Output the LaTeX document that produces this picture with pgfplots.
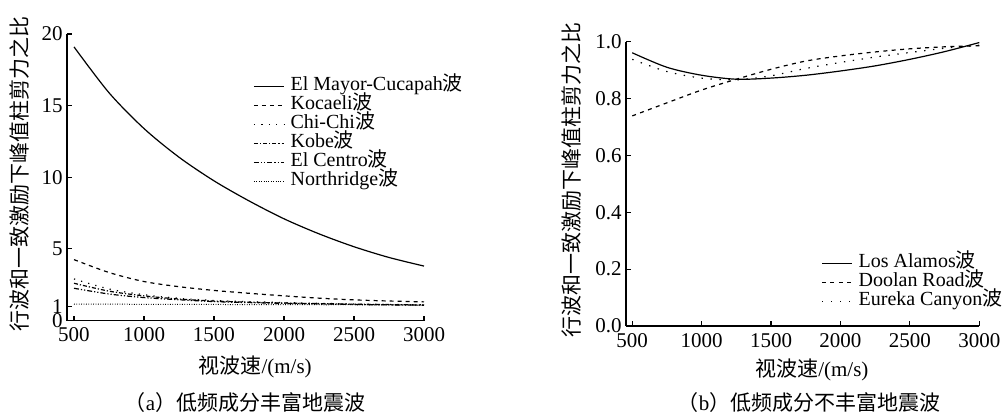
\documentclass[border=0pt]{standalone}
\usepackage{fontspec}
\setmainfont{Liberation Serif}
\setsansfont{Liberation Serif}
\newfontfamily\cjk{Noto Sans CJK SC}
\usepackage{pgfplots}
\usepackage{pgfplotstable}
\pgfplotsset{compat=1.18}

\pgfplotstableread{
x emc koc chichi kobe elc nor
500 19.1 4.25 2.90 2.60 2.25 1.15
750 15.9 3.35 2.20 2.05 1.85 1.14
1000 13.4 2.72 1.80 1.72 1.60 1.13
1250 11.4 2.36 1.55 1.50 1.45 1.12
1500 9.75 2.10 1.40 1.36 1.32 1.12
1750 8.35 1.90 1.32 1.28 1.25 1.11
2000 7.10 1.72 1.25 1.22 1.20 1.11
2250 6.05 1.56 1.20 1.18 1.16 1.10
2500 5.15 1.44 1.15 1.14 1.12 1.10
2750 4.40 1.36 1.12 1.11 1.09 1.09
3000 3.80 1.30 1.10 1.08 1.07 1.08
}\lefttab

\pgfplotstableread{
x la dr ec
500 0.961 0.739 0.938
750 0.910 0.785 0.895
1000 0.882 0.830 0.872
1250 0.868 0.868 0.866
1500 0.872 0.903 0.880
1750 0.882 0.932 0.906
2000 0.897 0.950 0.927
2250 0.915 0.964 0.946
2500 0.938 0.975 0.962
2750 0.965 0.982 0.977
3000 0.997 0.986 0.988
}\righttab

\pgfplotsset{
 myaxis/.style={
  scale only axis,
  axis lines=left,
  axis line style={-, line width=0.6pt},
  tick align=inside,
  major tick length=2.5pt,
  tick style={line width=0.6pt, black},
  /pgf/number format/assume math mode=true,
  xtick={500,1000,1500,2000,2500,3000},
  x tick label style={/pgf/number format/1000 sep={}},
  yticklabel style={inner xsep=2pt},
  ymin=0,
  xmax=3000,
  clip=false,
  cycle list={{black,solid}},
  legend cell align=left,
  legend image code/.code={\draw[##1] (0pt,0pt) -- (15pt,0pt);},
  legend style={draw=none, fill=none, anchor=north west, row sep=0pt, column sep=3pt, inner sep=0pt,
    nodes={inner sep=0pt, text height=7pt, text depth=2.5pt, font=\fontsize{10}{11}\selectfont}},
  every axis plot/.append style={line width=0.6pt, black, smooth, no marks},
 }
}

\begin{document}
\begin{tikzpicture}[font=\rmfamily\fontsize{10.5}{12}\selectfont]
\path (0,0) rectangle (504pt,207pt);

\begin{axis}[myaxis,
  at={(33.5pt,46.75pt)}, anchor=south west,
  width=178.5pt, height=143.25pt,
  xmin=450, ymax=20,
  ytick={0,1,5,10,15,20},
  xlabel={{\cjk 视波速}/(m/s)},
  xlabel style={at={(axis description cs:0.527,-0.162)}, anchor=center},
  ylabel={{\cjk 行波和一致激励下峰值柱剪力之比}},
  ylabel style={at={(axis description cs:-0.1317,0.51)}, anchor=center},
  legend style={at={(0.521,0.852)}},
]
\addplot[black, solid] table[x=x,y=emc]{\lefttab};
\addlegendentry{El Mayor-Cucapah{\cjk 波}}
\addplot[dash pattern=on 2pt off 2pt] table[x=x,y=koc]{\lefttab};
\addlegendentry{Kocaeli{\cjk 波}}
\addplot[dash pattern=on 0.6pt off 3.1pt] table[x=x,y=chichi]{\lefttab};
\addlegendentry{Chi-Chi{\cjk 波}}
\addplot[dash pattern=on 2pt off 1pt on 0.6pt off 1pt] table[x=x,y=kobe]{\lefttab};
\addlegendentry{Kobe{\cjk 波}}
\addplot[dash pattern=on 2.5pt off 1pt on 0.6pt off 1pt on 0.6pt off 1pt] table[x=x,y=elc]{\lefttab};
\addlegendentry{El Centro{\cjk 波}}
\addplot[line width=0.5pt, dash pattern=on 0.4pt off 0.8pt] table[x=x,y=nor]{\lefttab};
\addlegendentry{Northridge{\cjk 波}}
\end{axis}

\begin{axis}[myaxis,
  at={(313pt,44pt)}, anchor=south west,
  width=176.65pt, height=142.15pt,
  xmin=455, ymax=1,
  ytick={0,0.2,0.4,0.6,0.8,1},
  yticklabel style={/pgf/number format/fixed, /pgf/number format/fixed zerofill, /pgf/number format/precision=1},
  xlabel={{\cjk 视波速}/(m/s)},
  xlabel style={at={(axis description cs:0.526,-0.155)}, anchor=center},
  ylabel={{\cjk 行波和一致激励下峰值柱剪力之比}},
  ylabel style={at={(axis description cs:-0.154,0.513)}, anchor=center},
  legend style={at={(0.552,0.255)}},
]
\addplot[black, solid] table[x=x,y=la]{\righttab};
\addlegendentry{Los Alamos{\cjk 波}}
\addplot[dash pattern=on 2pt off 2.2pt] table[x=x,y=dr]{\righttab};
\addlegendentry{Doolan Road{\cjk 波}}
\addplot[dash pattern=on 0.7pt off 3.8pt] table[x=x,y=ec]{\righttab};
\addlegendentry{Eureka Canyon{\cjk 波}}
\end{axis}

\node at (122.5pt,5.5pt) {{\cjk （}a{\cjk ）低频成分丰富地震波}};
\node at (404.5pt,5.5pt) {{\cjk （}b{\cjk ）低频成分不丰富地震波}};
\end{tikzpicture}
\end{document}
